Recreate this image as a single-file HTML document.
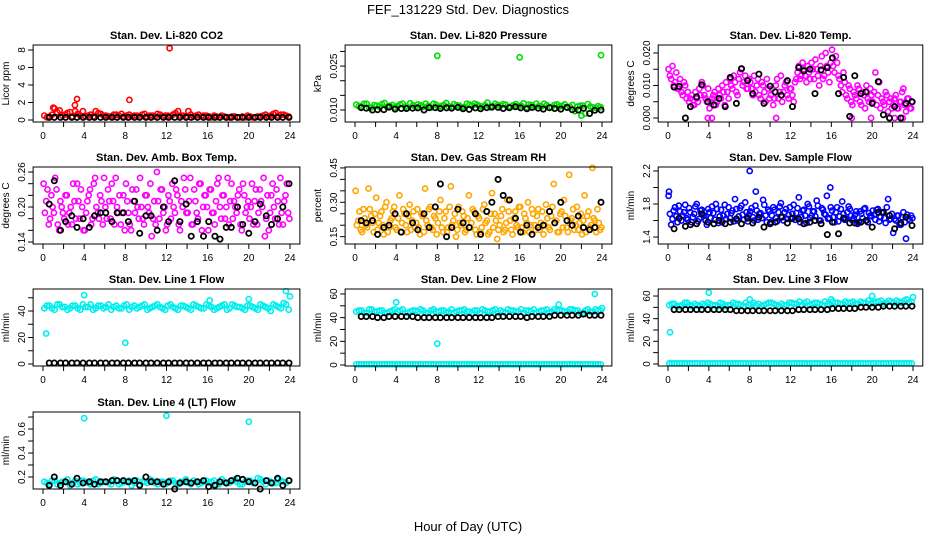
<!DOCTYPE html>
<html><head><meta charset="utf-8">
<style>
html,body{margin:0;padding:0;background:#fff;}
svg{display:block;font-family:"Liberation Sans",Arial,sans-serif;}
</style></head>
<body>
<svg id="chart" width="936" height="540" viewBox="0 0 936 540" xmlns="http://www.w3.org/2000/svg">
<rect x="0" y="0" width="936" height="540" fill="#fff"/>
<text x="468" y="14" text-anchor="middle" font-size="13">FEF_131229  Std. Dev. Diagnostics</text>
<text x="468" y="531" text-anchor="middle" font-size="13">Hour of Day (UTC)</text>
</svg>
<script>
const xTickValues = [0,2,4,6,8,10,12,14,16,18,20,22,24];
const xTickLabels = ["0","","4","","8","","12","","16","","20","","24"];
const blackHours = [0.6,1.1,1.7,2.2,2.8,3.3,3.9,4.5,5.0,5.6,6.1,6.7,7.2,7.8,8.3,8.9,9.4,10.0,10.5,11.1,11.7,12.2,12.8,13.3,13.9,14.4,15.0,15.6,16.1,16.7,17.2,17.8,18.3,18.9,19.4,20.0,20.6,21.1,21.7,22.2,22.8,23.3,23.9];

// CO2
const co2Red = [0.5,0.4,1.3,1.1,0.6,0.9,1.0,0.5,0.4,0.6,1.0,0.7,0.5,0.4,0.6,0.7,0.5,0.4,0.5,0.6,0.4,0.5,0.7,0.4,0.5,0.6,1.0,0.5,1.0,0.4,0.6,0.5,0.4,0.5,0.3,0.4,0.3,0.4,0.3,0.3,0.4,0.3,0.4,0.6,0.5,0.8,0.6,0.5];
const co2Red2 = [0.3,0.6,0.9,0.5,0.8,0.4,0.7,1.0,0.5,0.4,0.8,0.5,0.4,0.6,0.5,0.4,0.6,0.5,0.4,0.7,0.5,0.4,0.6,0.5,0.4,0.8,0.5,0.4,0.6,0.5,0.4,0.5,0.3,0.4,0.5,0.3,0.4,0.3,0.4,0.5,0.3,0.4,0.5,0.4,0.7,0.5,0.6,0.4];
const co2Black = [0.3,0.3,0.3,0.3,0.3,0.3,0.3,0.3,0.3,0.3,0.3,0.3,0.3,0.3,0.3,0.3,0.3,0.3,0.3,0.3,0.3,0.3,0.3,0.3,0.3,0.3,0.3,0.3,0.3,0.3,0.3,0.3,0.3,0.3,0.3,0.3,0.3,0.3,0.3,0.3,0.3,0.3,0.3];
const co2OutHours = [12.3,3.3,8.4,3.1,1.0];
const co2OutVals = [8.2,2.4,2.3,1.7,1.4];
// Pressure
const presGreen = [0.0118,0.0112,0.0121,0.0109,0.0115,0.0120,0.0110,0.0117,0.0113,0.0122,0.0108,0.0116,0.0119,0.0111,0.0114,0.0121,0.0109,0.0117,0.0112,0.0120,0.0115,0.0110,0.0118,0.0122,0.0113,0.0116,0.0109,0.0121,0.0114,0.0118,0.0111,0.0120,0.0115,0.0109,0.0117,0.0122,0.0112,0.0116,0.0110,0.0119,0.0114,0.0108,0.0117,0.0112,0.0115,0.0120,0.0109,0.0113];
const presGreen2 = [0.0113,0.0121,0.0108,0.0117,0.0111,0.0124,0.0114,0.0109,0.0119,0.0112,0.0123,0.0110,0.0116,0.0121,0.0108,0.0118,0.0113,0.0124,0.0111,0.0116,0.0109,0.0122,0.0114,0.0118,0.0110,0.0125,0.0113,0.0117,0.0120,0.0109,0.0116,0.0112,0.0123,0.0118,0.0110,0.0114,0.0121,0.0108,0.0117,0.0112,0.0119,0.0111,0.0096,0.0115,0.0088,0.0112,0.0107,0.0110];
const presBlack = [0.0108,0.0106,0.0100,0.0101,0.0101,0.0110,0.0103,0.0105,0.0105,0.0106,0.0107,0.0100,0.0108,0.0108,0.0105,0.0107,0.0106,0.0109,0.0104,0.0102,0.0107,0.0104,0.0108,0.0110,0.0109,0.0105,0.0108,0.0111,0.0107,0.0104,0.0109,0.0106,0.0103,0.0108,0.0105,0.0103,0.0109,0.0101,0.0100,0.0106,0.0088,0.0099,0.0100];
const presOutHours = [8.0,16.0,23.9,22.0];
const presOutVals = [0.0285,0.0280,0.0287,0.0081];
// Li-820 temp
const tempMag = [0.015,0.012,0.010,0.014,0.009,0.008,0.011,0.006, 0.005,0.007,0.004,0.006,0.009,0.011,0.007,0.005, 0.003,0.006,0.008,0.005,0.007,0.010,0.004,0.008, 0.012,0.009,0.011,0.007,0.014,0.010,0.013,0.009, 0.011,0.007,0.008,0.012,0.006,0.010,0.005,0.009, 0.007,0.004,0.010,0.006,0.013,0.008,0.011,0.006, 0.009,0.005,0.012,0.016,0.013,0.015,0.011,0.014, 0.017,0.012,0.015,0.010,0.019,0.013,0.016,0.011, 0.021,0.014,0.017,0.012,0.008,0.011,0.006,0.009, 0.004,0.007,0.010,0.005,0.008,0.003,0.006,0.009, 0.005,0.014,0.007,0.003,0.005,0.008,0.002,0.006, 0.004,0.007,0.003,0.005,0.009,0.002,0.006,0.003];
const tempMag2 = [0.013,0.016,0.011,0.009,0.012,0.007,0.010,0.008, 0.006,0.004,0.008,0.005,0.007,0.010,0.006,0.009, 0.005,0.007,0.004,0.009,0.006,0.008,0.011,0.006, 0.010,0.013,0.008,0.012,0.015,0.011,0.009,0.012, 0.009,0.013,0.010,0.007,0.011,0.008,0.012,0.006, 0.009,0.006,0.012,0.008,0.005,0.010,0.007,0.009, 0.007,0.011,0.014,0.012,0.017,0.013,0.016,0.012, 0.015,0.018,0.013,0.016,0.012,0.020,0.014,0.017, 0.016,0.019,0.013,0.010,0.014,0.007,0.010,0.005, 0.008,0.006,0.009,0.004,0.007,0.010,0.005,0.007, 0.008,0.004,0.011,0.006,0.004,0.007,0.005,0.003, 0.006,0.003,0.005,0.008,0.004,0.006,0.003,0.005];
const tempBlack = [0.0095,0.0097,0,0.0035,0.0065,0.0102,0.005,0.004,0.006,0.0035,0.0125,0.0045,0.0152,0.0115,0.0075,0.0135,0.0045,0.0098,0.008,0.007,0.0115,0.0035,0.0155,0.0145,0.015,0.0075,0.0148,0.0155,0.0185,0.0075,0.0125,0.0005,0.013,0.0075,0.008,0.0045,0.0112,0.001,0,0.0035,0,0.0045,0.005];
const tempOutHours = [3.9,4.3,10.6,18.0,19.9,21.7,22.2,23.0];
const tempOutVals = [0,0,0,0,0,0,0,0];
// Amb box temp
const boxMag = [0.24,0.21,0.17,0.22,0.19,0.23,0.16,0.20, 0.18,0.22,0.19,0.17,0.21,0.24,0.18,0.20, 0.16,0.21,0.23,0.18,0.25,0.19,0.22,0.17, 0.20,0.23,0.18,0.21,0.25,0.19,0.17,0.22, 0.24,0.19,0.16,0.21,0.23,0.18,0.20,0.17, 0.22,0.19,0.15,0.21,0.26,0.18,0.23,0.20, 0.17,0.21,0.24,0.19,0.22,0.16,0.20,0.23, 0.19,0.25,0.17,0.21,0.18,0.24,0.20,0.22, 0.16,0.23,0.19,0.21,0.25,0.18,0.22,0.20, 0.17,0.24,0.21,0.19,0.23,0.16,0.22,0.20, 0.18,0.24,0.21,0.17,0.23,0.20,0.15,0.22, 0.19,0.24,0.18,0.21,0.25,0.17,0.22,0.19];
const boxMag2 = [0.19,0.23,0.18,0.20,0.25,0.17,0.21,0.19, 0.22,0.17,0.20,0.24,0.18,0.21,0.23,0.16, 0.19,0.22,0.17,0.24,0.20,0.18,0.21,0.25, 0.18,0.21,0.24,0.17,0.20,0.22,0.19,0.16, 0.21,0.17,0.23,0.19,0.20,0.25,0.18,0.22, 0.20,0.24,0.18,0.17,0.21,0.23,0.19,0.16, 0.22,0.18,0.20,0.23,0.17,0.21,0.25,0.19, 0.21,0.17,0.23,0.19,0.24,0.16,0.22,0.20, 0.23,0.19,0.17,0.24,0.20,0.22,0.18,0.25, 0.21,0.18,0.20,0.22,0.17,0.24,0.19,0.21, 0.20,0.17,0.23,0.19,0.21,0.25,0.18,0.16, 0.22,0.20,0.23,0.17,0.19,0.21,0.24,0.18];
const boxBlack = [0.205,0.245,0.16,0.175,0.185,0.165,0.18,0.165,0.185,0.19,0.19,0.175,0.19,0.19,0.175,0.21,0.155,0.185,0.185,0.16,0.20,0.175,0.245,0.175,0.205,0.15,0.175,0.15,0.175,0.15,0.145,0.165,0.165,0.20,0.17,0.155,0.175,0.205,0.185,0.17,0.18,0.20,0.24];
// RH
const rhOrange = [0.35,0.22,0.18,0.27,0.20,0.36,0.24,0.17, 0.32,0.21,0.26,0.16,0.30,0.19,0.23,0.28, 0.18,0.33,0.21,0.25,0.17,0.29,0.22,0.19, 0.27,0.16,0.24,0.36,0.20,0.28,0.18,0.23, 0.21,0.31,0.17,0.26,0.19,0.37,0.22,0.15, 0.28,0.20,0.24,0.18,0.33,0.21,0.26,0.16, 0.23,0.19,0.29,0.22,0.17,0.34,0.25,0.14, 0.20,0.27,0.18,0.31,0.22,0.16,0.26,0.19, 0.28,0.17,0.23,0.30,0.20,0.25,0.18,0.27, 0.21,0.16,0.29,0.19,0.24,0.38,0.22,0.17, 0.26,0.31,0.19,0.42,0.23,0.18,0.28,0.21, 0.16,0.33,0.24,0.19,0.45,0.22,0.27,0.18];
const rhOrange2 = [0.20,0.26,0.17,0.23,0.19,0.27,0.21,0.25, 0.18,0.24,0.20,0.28,0.17,0.22,0.26,0.19, 0.23,0.17,0.27,0.20,0.24,0.18,0.26,0.21, 0.19,0.25,0.17,0.22,0.27,0.19,0.24,0.16, 0.26,0.19,0.23,0.17,0.28,0.20,0.25,0.18, 0.21,0.26,0.17,0.23,0.19,0.27,0.18,0.24, 0.17,0.27,0.21,0.16,0.25,0.19,0.22,0.18, 0.24,0.17,0.21,0.26,0.18,0.23,0.20,0.28, 0.19,0.25,0.21,0.17,0.27,0.20,0.24,0.18, 0.26,0.20,0.23,0.18,0.28,0.21,0.17,0.25, 0.19,0.24,0.17,0.22,0.27,0.20,0.18,0.25, 0.22,0.17,0.26,0.20,0.23,0.17,0.21,0.19];
const rhBlack = [0.22,0.21,0.22,0.16,0.19,0.20,0.25,0.17,0.25,0.21,0.18,0.25,0.19,0.28,0.38,0.15,0.19,0.27,0.21,0.19,0.25,0.16,0.26,0.30,0.40,0.33,0.31,0.23,0.17,0.20,0.16,0.19,0.20,0.26,0.21,0.30,0.22,0.20,0.24,0.19,0.18,0.19,0.30];
// Sample flow
const sfBlue = [1.90,1.55,1.72,1.65,1.78,1.60,1.70,1.63, 1.75,1.58,1.68,1.80,1.62,1.73,1.66,1.55, 1.70,1.77,1.61,1.74,1.65,1.58,1.79,1.68, 1.63,1.72,1.86,1.60,1.75,1.67,1.82,1.59, 1.71,1.64,1.78,1.61,1.69,1.85,1.66,1.73, 1.58,1.76,1.63,1.70,1.81,1.60,1.74,1.67, 1.62,1.79,1.69,1.88,1.64,1.73,1.57,1.77, 1.66,1.71,1.84,1.60,1.75,1.68,1.90,1.63, 1.72,1.58,1.76,1.65,1.83,1.61,1.70,1.74, 1.60,1.67,1.56,1.71,1.63,1.75,1.58,1.66, 1.72,1.61,1.74,1.64,1.69,1.57,1.86,1.62, 1.45,1.60,1.66,1.55,1.70,1.38,1.62,1.66];
const sfBlue2 = [1.68,1.62,1.76,1.58,1.71,1.66,1.79,1.61, 1.70,1.64,1.77,1.59,1.72,1.67,1.60,1.74, 1.63,1.69,1.80,1.57,1.73,1.66,1.62,1.76, 1.69,1.59,1.74,1.65,1.78,1.61,1.70,1.67, 1.75,1.60,1.72,1.68,1.63,1.79,1.58,1.71, 1.66,1.73,1.59,1.77,1.64,1.70,1.62,1.76, 1.68,1.61,1.75,1.58,1.72,1.66,1.80,1.63, 1.71,1.65,1.78,1.60,1.73,1.67,1.62,1.76, 1.64,1.70,1.59,1.74,1.68,1.62,1.77,1.66, 1.63,1.71,1.58,1.68,1.74,1.60,1.69,1.65, 1.67,1.73,1.59,1.70,1.63,1.76,1.61,1.68, 1.62,1.66,1.55,1.64,1.58,1.67,1.60,1.63];
const sfBlack = [1.50,1.63,1.53,1.55,1.56,1.68,1.58,1.56,1.60,1.56,1.58,1.62,1.56,1.63,1.57,1.64,1.52,1.56,1.58,1.64,1.57,1.63,1.62,1.56,1.58,1.60,1.56,1.43,1.58,1.44,1.63,1.57,1.57,1.58,1.60,1.52,1.70,1.70,1.66,1.50,1.57,1.64,1.54];
const sfOutHours = [8.0,8.6,15.9,0.1];
const sfOutVals = [2.2,1.95,2.0,1.95];
// Line 1
const l1Cyan = [42,44,41,45,43,42,44,41,43,45,42,44,43,41,44,42,45,43,42,44,41,43,45,42,44,43,41,44,42,45,43,42,44,41,43,45,42,44,43,41,44,42,45,43,40,44,42,45];
const l1Cyan2 = [44,42,45,43,41,44,42,45,43,41,44,42,45,43,42,44,41,44,43,45,42,44,43,41,45,42,44,43,41,44,42,45,43,42,44,41,45,43,42,44,43,41,44,42,45,43,46,41];
const l1Black = [0.8,0.8,0.8,0.8,0.8,0.8,0.8,0.8,0.8,0.8,0.8,0.8,0.8,0.8,0.8,0.8,0.8,0.8,0.8,0.8,0.8,0.8,0.8,0.8,0.8,0.8,0.8,0.8,0.8,0.8,0.8,0.8,0.8,0.8,0.8,0.8,0.8,0.8,0.8,0.8,0.8,0.8,0.8];
const l1OutHours = [0.3,4.0,8.0,16.2,20.0,23.6,24.0];
const l1OutVals = [23,52,16,48,49,55,51];
// Line 2
const l2CyanHigh = [45,46,44,47,45,46,44,46,45,47,44,46,45,46,44,47,45,46,45,44,46,47,45,46,44,46,45,47,46,44,46,45,47,46,45,44,46,47,45,46,46,45,47,46,44,47,45,46];
const l2CyanHigh2 = [46,44,47,45,46,44,45,47,46,44,45,46,47,44,46,45,46,44,47,45,46,45,44,46,47,45,46,44,45,47,46,45,44,46,47,45,46,44,47,46,45,47,46,44,46,45,47,46];
const l2CyanLow = [0.5,0.5,0.5,0.5,0.5,0.5,0.5,0.5,0.5,0.5,0.5,0.5,0.5,0.5,0.5,0.5,0.5,0.5,0.5,0.5,0.5,0.5,0.5,0.5,0.5,0.5,0.5,0.5,0.5,0.5,0.5,0.5,0.5,0.5,0.5,0.5,0.5,0.5,0.5,0.5,0.5,0.5,0.5,0.5,0.5,0.5,0.5,0.5];
const l2Black = [41,41,41,40,40,41,41,41,41,41,40,40,40,40,40,40,40,40,40,40,40,40,40,40,41,41,41,41,41,40,41,41,41,41,42,42,42,42,42,43,42,42,42];
const l2OutHours = [8.0,4.0,23.3,19.8,24.0];
const l2OutVals = [18,53,60,51,48];
// Line 3
const l3CyanHigh = [52,53,51,54,52,53,51,52,53,52,54,51,52,53,52,54,53,52,51,53,54,52,53,52,54,53,52,55,53,54,52,53,55,54,53,54,55,53,54,56,54,55,53,56,54,55,56,54];
const l3CyanHigh2 = [53,51,52,54,51,52,53,54,52,51,53,52,54,53,51,52,54,53,52,54,53,51,52,54,53,55,54,52,54,53,55,52,54,53,55,54,53,55,54,53,55,56,54,55,56,54,57,55];
const l3CyanLow = [0.5,0.5,0.5,0.5,0.5,0.5,0.5,0.5,0.5,0.5,0.5,0.5,0.5,0.5,0.5,0.5,0.5,0.5,0.5,0.5,0.5,0.5,0.5,0.5,0.5,0.5,0.5,0.5,0.5,0.5,0.5,0.5,0.5,0.5,0.5,0.5,0.5,0.5,0.5,0.5,0.5,0.5,0.5,0.5,0.5,0.5,0.5,0.5];
const l3Black = [48,48,48,48,48,48,48,48,48,48,48,47,47,47,47,47,47,47,47,47,47,47,48,48,48,48,48,48,49,49,49,49,49,50,50,50,50,51,51,51,51,51,51];
const l3OutHours = [0.2,4.0,8.0,16.0,20.0,24.0];
const l3OutVals = [28,63,57,57,60,59];
// Line 4
const l4Cyan = [0.16,0.14,0.17,0.15,0.16,0.13,0.17,0.15,0.16,0.14,0.18,0.15,0.16,0.14,0.17,0.15,0.16,0.13,0.17,0.16,0.15,0.17,0.14,0.16,0.15,0.17,0.14,0.16,0.15,0.17,0.14,0.16,0.15,0.17,0.14,0.16,0.15,0.18,0.14,0.16,0.17,0.15,0.18,0.14,0.16,0.15,0.17,0.15];
const l4Cyan2 = [0.15,0.17,0.14,0.16,0.18,0.15,0.14,0.17,0.15,0.17,0.14,0.16,0.15,0.18,0.14,0.16,0.17,0.15,0.14,0.16,0.18,0.15,0.16,0.14,0.17,0.15,0.16,0.18,0.14,0.16,0.15,0.17,0.16,0.14,0.18,0.15,0.17,0.16,0.14,0.17,0.15,0.19,0.16,0.17,0.15,0.18,0.16,0.17];
const l4Black = [0.13,0.20,0.13,0.16,0.14,0.19,0.15,0.16,0.14,0.16,0.16,0.17,0.17,0.17,0.16,0.17,0.13,0.20,0.16,0.16,0.14,0.16,0.10,0.15,0.16,0.15,0.16,0.17,0.12,0.13,0.16,0.15,0.17,0.19,0.18,0.16,0.15,0.10,0.17,0.15,0.19,0.13,0.17];
const l4OutHours = [4.0,12.0,20.0];
const l4OutVals = [0.69,0.71,0.66];

const svg = document.getElementById('chart');
const NS = 'http://www.w3.org/2000/svg';
function mk(tag, attrs, parent){ const e=document.createElementNS(NS,tag); for(const k in attrs) e.setAttribute(k,attrs[k]); (parent||svg).appendChild(e); return e; }
function hoursFor(arr, frac){ const step=24/arr.length; return arr.map((v,i)=>i*step+step*frac); }

const panels = [
 {name:'co2',title:'Stan. Dev. Li-820 CO2',ylab:'Licor ppm',x0:43,x24:290,top:45,bot:122,lo:-0.23,hi:8.57,
  yt:[0,2,4,6,8],yl:['0','2','4','6','8'],
  series:[[co2Red,null,'#ff0000',0.25],[co2Red2,null,'#ff0000',0.75],[co2OutVals,co2OutHours,'#ff0000'],[co2Black,blackHours,'#000']]},
 {name:'pressure',title:'Stan. Dev. Li-820 Pressure',ylab:'kPa',x0:355,x24:602,top:45,bot:122,lo:0.0059,hi:0.0322,
  yt:[0.010,0.015,0.020,0.025,0.030],yl:['0.010','','','0.025',''],
  series:[[presGreen,null,'#00dd00',0.25],[presGreen2,null,'#00dd00',0.75],[presOutVals,presOutHours,'#00dd00'],[presBlack,blackHours,'#000']]},
 {name:'li820-temp',title:'Stan. Dev. Li-820 Temp.',ylab:'degrees C',x0:668,x24:913,top:45,bot:122,lo:-0.00123,hi:0.02246,
  yt:[0,0.005,0.010,0.015,0.020],yl:['0.000','','0.010','','0.020'],
  series:[[tempMag,null,'#ff00ff',0.25],[tempMag2,null,'#ff00ff',0.75],[tempOutVals,tempOutHours,'#ff00ff'],[tempBlack,blackHours,'#000']]},
 {name:'box-temp',title:'Stan. Dev. Amb. Box Temp.',ylab:'degrees C',x0:43,x24:290,top:167,bot:244,lo:0.1366,hi:0.2686,
  yt:[0.14,0.16,0.18,0.20,0.22,0.24,0.26],yl:['0.14','','','0.20','','','0.26'],
  series:[[boxMag,null,'#ff00ff',0.25],[boxMag2,null,'#ff00ff',0.75],[boxBlack,blackHours,'#000']]},
 {name:'rh',title:'Stan. Dev. Gas Stream RH',ylab:'percent',x0:355,x24:602,top:167,bot:244,lo:0.118,hi:0.454,
  yt:[0.15,0.20,0.25,0.30,0.35,0.40,0.45],yl:['0.15','','','0.30','','','0.45'],
  series:[[rhOrange,null,'#ffa500',0.25],[rhOrange2,null,'#ffa500',0.75],[rhBlack,blackHours,'#000']]},
 {name:'sample-flow',title:'Stan. Dev. Sample Flow',ylab:'ml/min',x0:668,x24:913,top:167,bot:244,lo:1.316,hi:2.248,
  yt:[1.4,1.6,1.8,2.0,2.2],yl:['1.4','','1.8','','2.2'],
  series:[[sfBlue,null,'#0000ff',0.25],[sfBlue2,null,'#0000ff',0.75],[sfOutVals,sfOutHours,'#0000ff'],[sfBlack,blackHours,'#000']]},
 {name:'line1-flow',title:'Stan. Dev. Line 1 Flow',ylab:'ml/min',x0:43,x24:290,top:289,bot:366,lo:-1.5,hi:56.6,
  yt:[0,10,20,30,40,50],yl:['0','','20','','40',''],
  series:[[l1Cyan,null,'#00eeee',0.25],[l1Cyan2,null,'#00eeee',0.75],[l1OutVals,l1OutHours,'#00eeee'],[l1Black,blackHours,'#000']]},
 {name:'line2-flow',title:'Stan. Dev. Line 2 Flow',ylab:'ml/min',x0:355,x24:602,top:289,bot:366,lo:-0.85,hi:64.2,
  yt:[0,10,20,30,40,50,60],yl:['0','','20','','40','','60'],
  series:[[l2CyanHigh,null,'#00eeee',0.25],[l2CyanHigh2,null,'#00eeee',0.75],[l2CyanLow,null,'#00eeee',0.25],[l2CyanLow,null,'#00eeee',0.75],[l2OutVals,l2OutHours,'#00eeee'],[l2Black,blackHours,'#000']]},
 {name:'line3-flow',title:'Stan. Dev. Line 3 Flow',ylab:'ml/min',x0:668,x24:913,top:289,bot:366,lo:-1.8,hi:66.2,
  yt:[0,10,20,30,40,50,60],yl:['0','','20','','40','','60'],
  series:[[l3CyanHigh,null,'#00eeee',0.25],[l3CyanHigh2,null,'#00eeee',0.75],[l3CyanLow,null,'#00eeee',0.25],[l3CyanLow,null,'#00eeee',0.75],[l3OutVals,l3OutHours,'#00eeee'],[l3Black,blackHours,'#000']]},
 {name:'line4-flow',title:'Stan. Dev. Line 4 (LT) Flow',ylab:'ml/min',x0:43,x24:290,top:412,bot:489,lo:0.1,hi:0.742,
  yt:[0.2,0.3,0.4,0.5,0.6,0.7],yl:['0.2','','0.4','','0.6',''],
  series:[[l4Cyan,null,'#00eeee',0.25],[l4Cyan2,null,'#00eeee',0.75],[l4OutVals,l4OutHours,'#00eeee'],[l4Black,blackHours,'#000']]}
];

panels.forEach(p=>{
  const g = mk('g',{});
  
  
  const xs = h => p.x0 + (p.x24-p.x0)*h/24;
  const ys = v => p.bot - (v-p.lo)/(p.hi-p.lo)*(p.bot-p.top);
  const left = xs(-0.96), right = xs(24.96);
  const t = mk('text',{x:(left+right)/2,y:p.top-6,'text-anchor':'middle','font-size':'11','font-weight':'bold'},g);
  t.textContent = p.title;
  
  
  const yl = mk('text',{x:0,y:0,'text-anchor':'middle','font-size':'10',transform:`translate(${left-24},${(p.top+p.bot)/2}) rotate(-90)`},g);
  yl.textContent = p.ylab;
  
  
  p.series.forEach(s=>{
    const vals = s[0], hrs = s[1] || hoursFor(vals, s[3]);
    vals.forEach((v,i)=>{
      const c = mk('circle',{cx:xs(hrs[i]).toFixed(1),cy:ys(v).toFixed(1),r:2.6,fill:'none',stroke:s[2],'stroke-width':s[2]==='#000'?1.8:1.6},g);
      
      
    });
  });
  const box = mk('rect',{x:left,y:p.top,width:right-left,height:p.bot-p.top,fill:'none',stroke:'#000','stroke-width':1},g);
  
  
  mk('line',{x1:xs(0),x2:xs(24),y1:p.bot,y2:p.bot,stroke:'#000'},g);
  xTickValues.forEach((tv,i)=>{
    const x = xs(tv);
    mk('line',{x1:x,x2:x,y1:p.bot,y2:p.bot+5,stroke:'#000'},g);
    if(xTickLabels[i]){
      const tl = mk('text',{x:x,y:p.bot+17,'text-anchor':'middle','font-size':'10'},g);
      tl.textContent = xTickLabels[i];
      
      
    }
  });
  p.yt.forEach((tv,i)=>{
    const y = ys(tv);
    mk('line',{x1:left,x2:left-5,y1:y,y2:y,stroke:'#000'},g);
    if(p.yl[i]){
      const tl = mk('text',{x:0,y:0,'text-anchor':'middle','font-size':'10',transform:`translate(${left-8},${y}) rotate(-90)`},g);
      tl.textContent = p.yl[i];
      
      
    }
  });
});
</script>
</body></html>
